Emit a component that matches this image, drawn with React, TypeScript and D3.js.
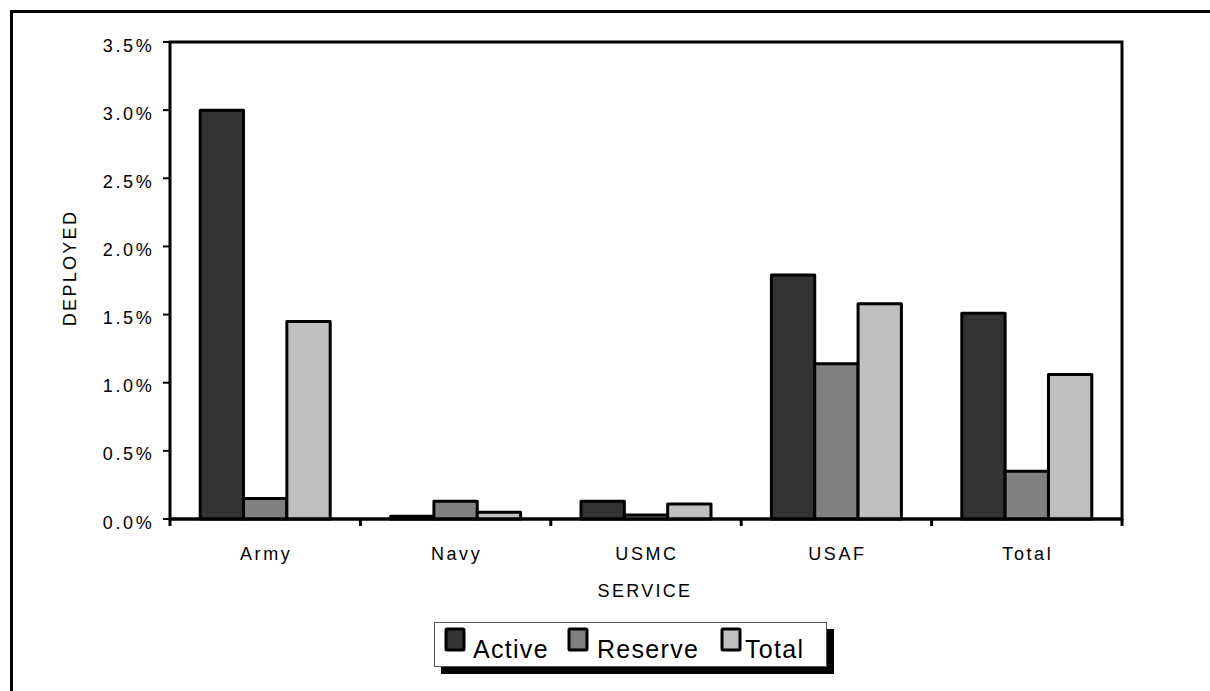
import React from "react";
import * as d3 from "d3";

const categories = ["Army", "Navy", "USMC", "USAF", "Total"];
const seriesNames = ["Active", "Reserve", "Total"];
const activeValues = [3.0, 0.02, 0.13, 1.79, 1.51];
const reserveValues = [0.15, 0.13, 0.03, 1.14, 0.35];
const totalValues = [1.45, 0.05, 0.11, 1.58, 1.06];
const yTicks = [0, 0.5, 1.0, 1.5, 2.0, 2.5, 3.0, 3.5];
const colors = ["#333333", "#808080", "#c0c0c0"];

export default function App() {
  const W = 1210, H = 691;
  const left = 170, right = 1122, top = 42, bottom = 519;
  const series = [activeValues, reserveValues, totalValues];
  const x = d3.scaleBand<string>().domain(categories).range([left, right]).paddingInner(0).paddingOuter(0);
  const y = d3.scaleLinear().domain([0, 3.5]).range([bottom, top]);
  const bw = x.bandwidth();
  const groupW = 130;
  const inner = d3.scaleBand<number>().domain([0, 1, 2]).range([0, groupW]).padding(0);
  const font = "'Liberation Sans', Arial, sans-serif";
  const legendItems = [
    { sx: 446, tx: 473 },
    { sx: 569, tx: 597 },
    { sx: 722, tx: 745 },
  ];
  return (
    <svg width={W} height={H} style={{ position: "absolute", left: 0, top: 0, background: "#fff" }}>
      <rect x={0} y={0} width={W} height={H} fill="#fff" />
      <rect x={11.5} y={11.5} width={W + 20} height={H + 20} fill="none" stroke="#000" strokeWidth={3} />
      {/* plot frame */}
      <rect x={left} y={top} width={right - left} height={bottom - top} fill="none" stroke="#000" strokeWidth={3} />
      {/* y ticks */}
      {yTicks.map((t) => (
        <g key={t}>
          <line x1={left - 7} x2={left} y1={y(t)} y2={y(t)} stroke="#000" strokeWidth={2} />
          <text x={154.5} y={y(t) + 9.5} textAnchor="end" fontFamily={font} fontSize={18} letterSpacing={2.7}>
            {t.toFixed(1) + "%"}
          </text>
        </g>
      ))}
      {/* x ticks */}
      {categories.map((c) => (
        <line key={c} x1={x(c)!} x2={x(c)!} y1={bottom} y2={bottom + 7} stroke="#000" strokeWidth={3} />
      ))}
      <line x1={right} x2={right} y1={bottom} y2={bottom + 7} stroke="#000" strokeWidth={3} />
      {/* bars */}
      {categories.map((c, i) => {
        const gx = x(c)! + (bw - groupW) / 2;
        return series.map((vals, s) => (
          <rect
            key={c + s}
            x={gx + inner(s)!}
            y={y(vals[i])}
            width={inner.bandwidth()}
            height={bottom - y(vals[i])}
            fill={colors[s]}
            stroke="#000"
            strokeWidth={3}
            strokeLinejoin="round"
          />
        ));
      })}
      {/* x axis line on top */}
      <line x1={left} x2={right} y1={bottom} y2={bottom} stroke="#000" strokeWidth={3} />
      {/* category labels */}
      {categories.map((c) => (
        <text key={c} x={x(c)! + bw / 2 + 1} y={560} textAnchor="middle" fontFamily={font} fontSize={18} letterSpacing={2.6}>
          {c}
        </text>
      ))}
      <text x={645} y={596.5} textAnchor="middle" fontFamily={font} fontSize={18} letterSpacing={2.3}>
        SERVICE
      </text>
      <text
        transform={`translate(76, 268) rotate(-90)`}
        textAnchor="middle"
        fontFamily={font}
        fontSize={18}
        letterSpacing={2.3}
      >
        DEPLOYED
      </text>
      {/* legend */}
      <rect x={441} y={629} width={393} height={45} fill="#000" />
      <rect x={434.5} y={622.5} width={392} height={44} fill="#fff" stroke="#555" strokeWidth={1} />
      {seriesNames.map((n, i) => (
        <g key={n}>
          <rect x={legendItems[i].sx} y={629} width={18} height={21} fill={colors[i]} stroke="#000" strokeWidth={3} rx={1} />
          <text x={legendItems[i].tx} y={658} fontFamily={font} fontSize={25} letterSpacing={1.3}>
            {n}
          </text>
        </g>
      ))}
    </svg>
  );
}
